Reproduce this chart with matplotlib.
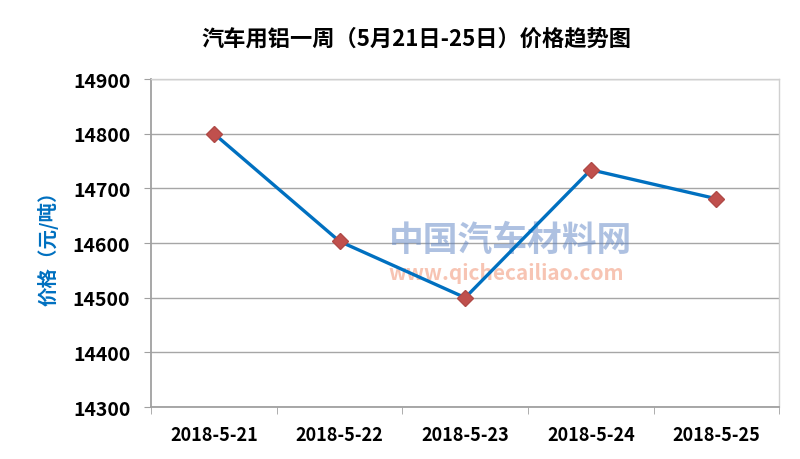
import numpy as np
from matplotlib import pyplot as plt

plt.rcParams['font.family'] = ['Noto Sans CJK SC', 'DejaVu Sans']

# data
dates = ["2018-5-21", "2018-5-22", "2018-5-23", "2018-5-24", "2018-5-25"]
price = [14800, 14603, 14500, 14734, 14681]
yticks = [14300, 14400, 14500, 14600, 14700, 14800, 14900]

fig = plt.figure(figsize=(8, 4.6), dpi=100)
ax = fig.add_axes([0.189, 0.113, 0.785, 0.713])

x = np.arange(len(dates))
ax.plot(x, price, color='#0070C0', lw=2.4, marker='D', markersize=8,
        markerfacecolor='#C0504D', markeredgecolor='#B04A47', zorder=3)

# faint watermark
ax.text(2.36, 14607, "中国汽车材料网", fontsize=25, fontweight='bold', color='#5F85C5',
        alpha=0.5, ha='center', va='center', zorder=1)
ax.text(2.33, 14547, "www.qichecailiao.com", fontsize=15, fontweight='bold', color='#F08A68',
        alpha=0.5, ha='center', va='center', zorder=1, style='italic')

ax.set_xlim(-0.5, 4.5)
ax.set_ylim(14300, 14900)
ax.set_yticks(yticks)
ax.set_yticklabels([str(v) for v in yticks], fontsize=14, fontweight='bold')
ax.set_xticks(x)
ax.set_xticklabels(dates, fontsize=13, fontweight='bold')
ax.set_xticks(np.arange(-0.5, 5, 1), minor=True)
ax.tick_params(axis='x', which='major', length=0, pad=13)
ax.tick_params(axis='x', which='minor', length=5, color='#A0A0A0')
ax.tick_params(axis='y', length=5, color='#A0A0A0', pad=10)

ax.grid(axis='y', color='#A6A6A6', lw=1)
ax.set_axisbelow(True)
for s in ['left', 'bottom']:
    ax.spines[s].set_color('#A0A0A0')
    ax.spines[s].set_linewidth(1.3)
for s in ['top', 'right']:
    ax.spines[s].set_color('#D0D0D0')
    ax.spines[s].set_linewidth(1.0)

ax.set_ylabel("价格（元/吨）", color='#0070C0', fontsize=14, fontweight='bold', labelpad=10)
fig.text(0.52, 0.915, "汽车用铝一周（5月21日-25日）价格趋势图", fontsize=16,
         fontweight='bold', ha='center', va='center')

plt.savefig("out.png")
